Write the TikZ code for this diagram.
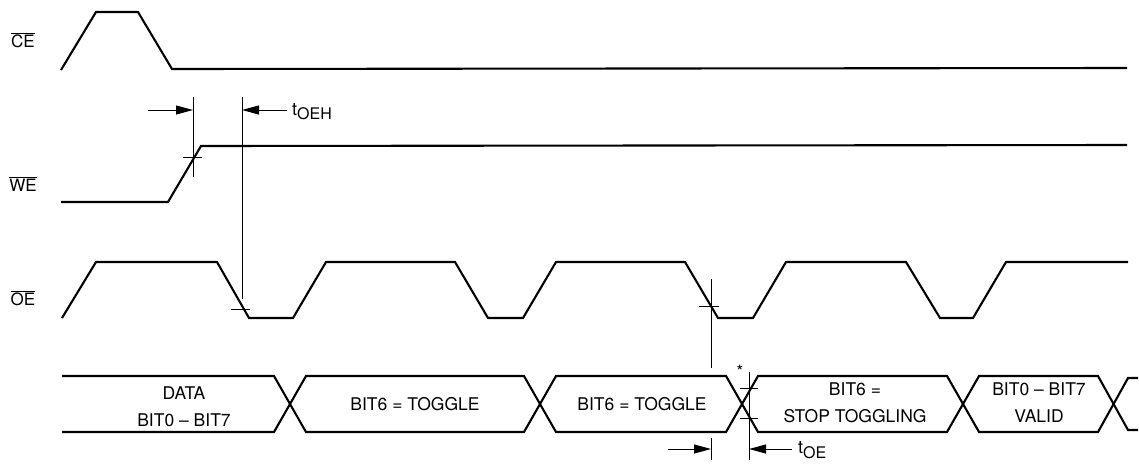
\documentclass[tikz,border=0pt]{standalone}
\usepackage{fontspec}
\setmainfont{TeX Gyre Heros}
\usetikzlibrary{arrows.meta}
\newcommand{\tsub}[1]{t\raisebox{-0.45ex}{\fontsize{16}{18}\selectfont #1}}
\begin{document}
\begin{tikzpicture}[x=1pt,y=-1pt,
  sig/.style={line width=2.1pt, line join=miter},
  thinline/.style={line width=1pt},
  dimarrow/.style={line width=1pt,-{Triangle[length=17pt,width=9pt]}},
  lab/.style={font=\fontsize{17}{20}\selectfont, inner sep=0pt},
  buslab/.style={font=\fontsize{17.5}{27}\selectfont, inner sep=0pt, align=center},
]
\useasboundingbox (0,0) rectangle (1139,464);

% signal labels
\node[lab] (ceL) at (23,40) {$\overline{\mbox{CE}}$};
\node[lab] (weL) at (23,184) {$\overline{\mbox{WE}}$};
\node[lab] (oeL) at (23,298) {$\overline{\mbox{OE}}$};

% CE
\draw[sig] (61,70) -- (96,12) -- (138,12) -- (172,69) -- (1127,68);
% WE
\draw[sig] (61,202) -- (168,202) -- (201,146) -- (1127,145);
% OE
\draw[sig] (62,318) -- (96,262) -- (217,262) -- (249,318) -- (293,318) -- (326,262)
  -- (455,262) -- (488,318) -- (523,318) -- (556,262)
  -- (685,262) -- (718,318) -- (753,318) -- (786,262)
  -- (906,262) -- (940,318) -- (973,318) -- (1006,262) -- (1128,262);

% data bus
\draw[sig] (62,376) -- (274,376) -- (306,432) -- (524,432) -- (556,376) -- (726,376)
  -- (758,432) -- (947,432) -- (979,376) -- (1098,376) -- (1128,430) -- (1138,430);
\draw[sig] (62,432) -- (274,432) -- (306,376) -- (524,376) -- (556,432) -- (726,432)
  -- (758,376) -- (947,376) -- (979,432) -- (1098,432) -- (1128,378) -- (1138,378);

% bus labels
\node[buslab] (d1) at (184,407) {DATA\\BIT0 -- BIT7};
\node[buslab] (d2) at (415,404) {BIT6 = TOGGLE};
\node[buslab] (d3) at (642,404) {BIT6 = TOGGLE};
\node[buslab] (d4) at (855,403) {BIT6 =\\STOP TOGGLING};
\node[buslab] (d5) at (1039,403) {BIT0 -- BIT7\\VALID};
\node[font=\fontsize{17}{17}\selectfont, inner sep=0pt] (star) at (740,371) {*};

% t_OEH measurement
\coordinate (weX) at (193,157);
\coordinate (weTop) at (193,97);
\coordinate (weBot) at (193,177);
\coordinate (oeX1) at (242,309);
\coordinate (oeTop1) at (242,97);
\draw[thinline] (weTop) -- (weBot);
\draw[thinline] ([xshift=-10pt]weX) -- ([xshift=9pt]weX);
\draw[thinline] (oeTop1) -- ([yshift=10pt]oeX1);
\draw[thinline] ([xshift=-11pt]oeX1) -- ([xshift=8pt]oeX1);
\coordinate (a1s) at (148,110);
\coordinate (a1e) at (193,110);
\coordinate (a2s) at (287,110);
\coordinate (a2e) at (242,110);
\draw[dimarrow] (a1s) -- (a1e);
\draw[dimarrow] (a2s) -- (a2e);
\node[inner sep=0pt, anchor=west, font=\fontsize{18}{20}\selectfont] (toeh) at (292,112) {\tsub{OEH}};

% t_OE measurement
\coordinate (oeX2) at (711,306);
\coordinate (oeTop2) at (711,279);
\coordinate (oeBot2) at (711,368);
\draw[thinline] (oeTop2) -- (oeBot2);
\draw[thinline] ([xshift=-12pt]oeX2) -- ([xshift=8pt]oeX2);
\coordinate (b1t) at (711,438);
\coordinate (b1b) at (711,460);
\draw[thinline] (b1t) -- (b1b);
\coordinate (vTop) at (749,372);
\coordinate (vBot) at (749,460);
\draw[thinline] (vTop) -- (vBot);
\coordinate (t1) at (749,388);
\coordinate (t2) at (749,418);
\draw[thinline] ([xshift=-9pt]t1) -- ([xshift=9pt]t1);
\draw[thinline] ([xshift=-9pt]t2) -- ([xshift=9pt]t2);
\coordinate (b2s) at (668,449);
\coordinate (b2e) at (711,449);
\coordinate (b3s) at (792,449);
\coordinate (b3e) at (749,449);
\draw[dimarrow] (b2s) -- (b2e);
\draw[dimarrow] (b3s) -- (b3e);
\node[inner sep=0pt, anchor=west, font=\fontsize{18}{20}\selectfont] (toe) at (798,450) {\tsub{OE}};
\end{tikzpicture}
\end{document}
